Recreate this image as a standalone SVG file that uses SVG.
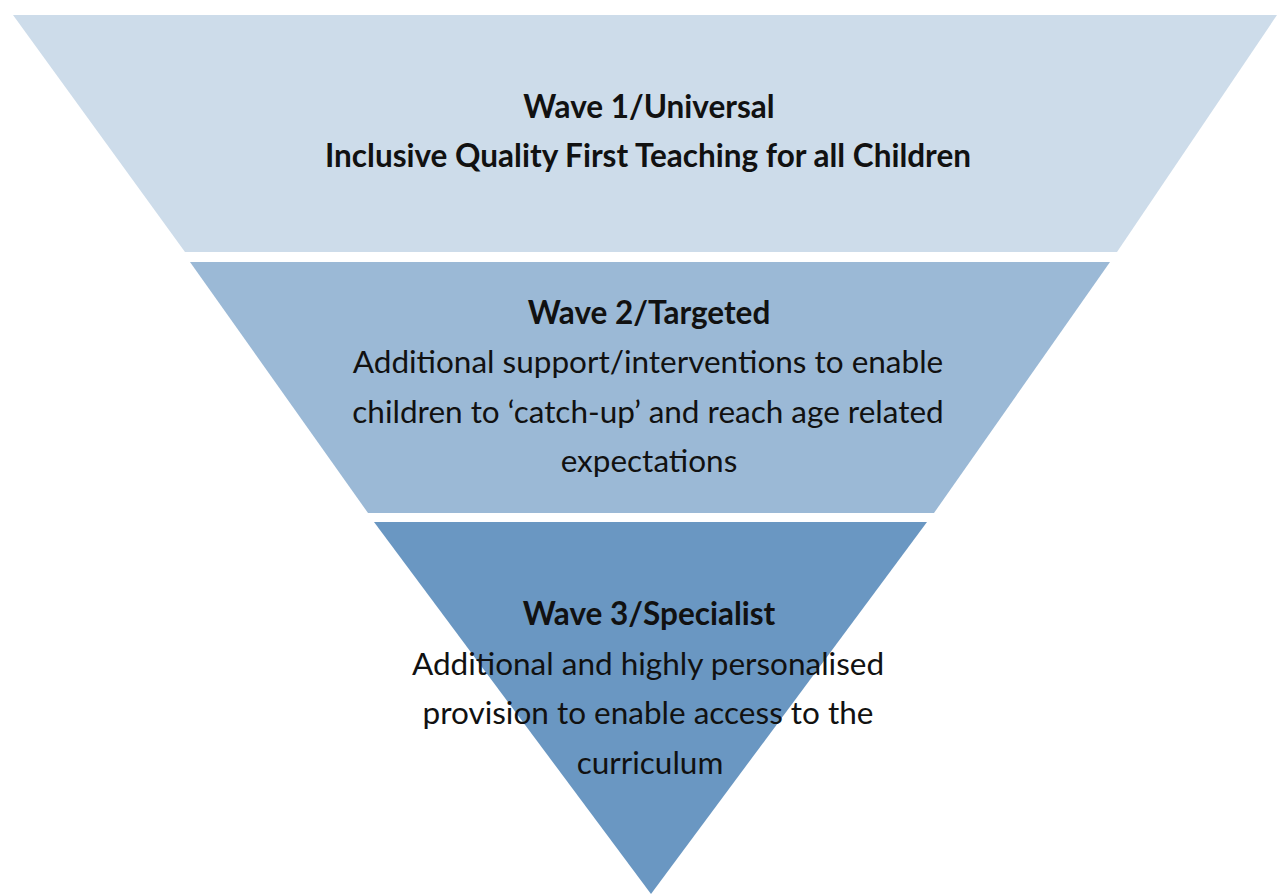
<svg xmlns="http://www.w3.org/2000/svg" width="1277" height="895" viewBox="0 0 1277 895">
<style>
text{font-family:Lato,"Open Sans","Liberation Sans",sans-serif;font-size:31.5px;fill:#111;text-anchor:middle}
.b{font-weight:bold}
</style>
<rect width="1277" height="895" fill="#fff"/>
<g id="wave1">
<polygon points="13,15 1277,15 1117,252 185,252" fill="#CDDCEA"/>
<text class="b" x="649" y="118">Wave 1/Universal</text>
<text class="b" x="648" y="167">Inclusive Quality First Teaching for all Children</text>
</g>
<g id="wave2">
<polygon points="190,262 1110,262 934,513 368,513" fill="#9BB9D6"/>
<text class="b" x="649" y="324">Wave 2/Targeted</text>
<text x="648" y="373">Additional support/interventions to enable</text>
<text x="648" y="423">children to ‘catch-up’ and reach age related</text>
<text x="649" y="472">expectations</text>
</g>
<g id="wave3">
<polygon points="374,522 927,522 651,894" fill="#6A97C2"/>
<text class="b" x="649" y="625">Wave 3/Specialist</text>
<text x="648" y="675">Additional and highly personalised</text>
<text x="648" y="724">provision to enable access to the</text>
<text x="650" y="774">curriculum</text>
</g>
<g id="connectors"/>
</svg>
